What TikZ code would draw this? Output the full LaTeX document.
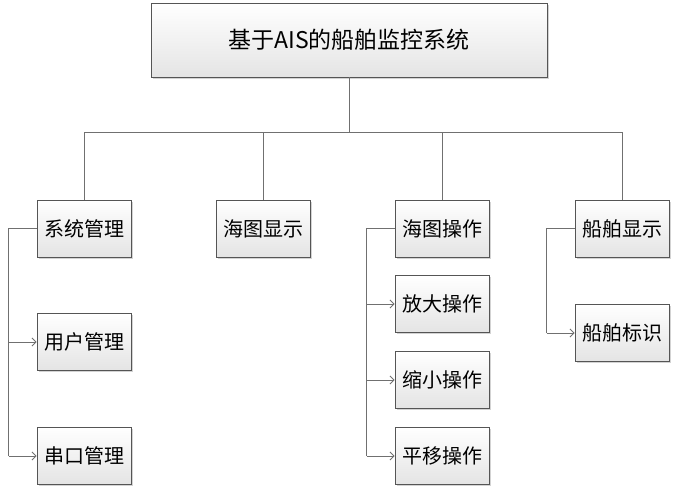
\documentclass[tikz,border=0pt]{standalone}
\usepackage{fontspec}
\newfontfamily\cjk{Noto Sans CJK SC}
\usetikzlibrary{arrows.meta,shadows}
\definecolor{linec}{HTML}{707070}
\definecolor{borderc}{HTML}{555555}
\definecolor{botc}{HTML}{E4E4E4}
\tikzset{
  box/.style={draw=borderc, line width=0.9pt, rectangle, top color=white, bottom color=botc,
    drop shadow={shadow xshift=1.5pt, shadow yshift=-1.5pt, opacity=0.35, fill=gray},
    minimum width=94pt, minimum height=57pt, inner sep=0pt,
    font=\cjk\fontsize{20}{22}\selectfont},
  titlebox/.style={box, minimum width=396pt, minimum height=74pt, font=\cjk\fontsize{23}{25}\selectfont},
  conn/.style={draw=linec, line width=0.9pt},
  arr/.style={conn, -{Straight Barb[length=4pt,width=8pt]}}
}
\begin{document}
\begin{tikzpicture}[x=1pt,y=-1pt]
\useasboundingbox (0,0) rectangle (674,488);
\node[titlebox] (top) at (349,40) {基于AIS的船舶监控系统};
\coordinate (bus) at (349,132);
\node[box] (sys) at (84,228.5) {系统管理};
\node[box] (chartshow) at (263,228.5) {海图显示};
\node[box] (chartop) at (442,228.5) {海图操作};
\node[box] (shipshow) at (622,228.5) {船舶显示};
\node[box] (user) at (84,342) {用户管理};
\node[box] (serial) at (84,456) {串口管理};
\node[box] (zoomin) at (442,304) {放大操作};
\node[box] (zoomout) at (442,380) {缩小操作};
\node[box] (pan) at (442,456) {平移操作};
\node[box] (shipmark) at (622,333) {船舶标识};
% tree connectors
\draw[conn] (top.south) -- (bus);
\draw[conn] (sys.north |- bus) -- (shipshow.north |- bus);
\draw[conn] (sys.north) -- (sys.north |- bus);
\draw[conn] (chartshow.north) -- (chartshow.north |- bus);
\draw[conn] (chartop.north) -- (chartop.north |- bus);
\draw[conn] (shipshow.north) -- (shipshow.north |- bus);
% sub-trunks
\coordinate (t1) at ([xshift=-28pt]sys.west);
\coordinate (t2) at ([xshift=-28pt]chartop.west);
\coordinate (t3) at ([xshift=-28pt]shipshow.west);
\draw[conn] (sys.west) -- (t1) -- (t1 |- serial.west);
\draw[arr] (t1 |- user.west) -- (user.west);
\draw[arr] (t1 |- serial.west) -- (serial.west);
\draw[conn] (chartop.west) -- (t2) -- (t2 |- pan.west);
\draw[arr] (t2 |- zoomin.west) -- (zoomin.west);
\draw[arr] (t2 |- zoomout.west) -- (zoomout.west);
\draw[arr] (t2 |- pan.west) -- (pan.west);
\draw[conn] (shipshow.west) -- (t3) -- (t3 |- shipmark.west);
\draw[arr] (t3 |- shipmark.west) -- (shipmark.west);
\end{tikzpicture}
\end{document}
